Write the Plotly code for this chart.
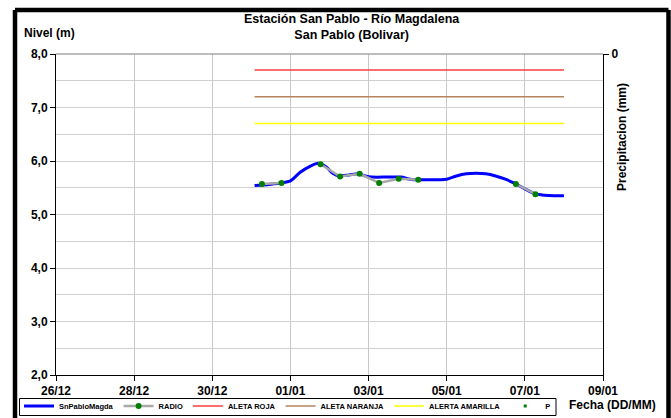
import plotly.graph_objects as go

# ---- data ----
nivel_time = ["2013-12-31 02:00", "2013-12-31 07:00", "2013-12-31 13:00", "2013-12-31 18:00",
              "2014-01-01 00:00", "2014-01-01 06:00", "2014-01-01 12:00", "2014-01-01 17:00",
              "2014-01-01 22:00", "2014-01-02 02:00", "2014-01-02 06:00", "2014-01-02 12:00",
              "2014-01-02 18:00", "2014-01-02 22:00", "2014-01-03 02:00", "2014-01-03 12:00",
              "2014-01-03 20:00", "2014-01-04 00:00", "2014-01-04 04:00", "2014-01-04 12:00",
              "2014-01-04 20:00", "2014-01-05 00:00", "2014-01-05 06:00", "2014-01-05 12:00",
              "2014-01-05 18:00", "2014-01-06 00:00", "2014-01-06 06:00", "2014-01-06 12:00",
              "2014-01-06 18:00", "2014-01-07 00:00", "2014-01-07 06:00", "2014-01-07 12:00",
              "2014-01-07 18:00", "2014-01-08 00:00"]
nivel_vals = [5.54, 5.55, 5.57, 5.59,
              5.63, 5.79, 5.90, 5.96,
              5.89, 5.77, 5.72, 5.74,
              5.76, 5.72, 5.70, 5.70,
              5.70, 5.67, 5.65, 5.65,
              5.65, 5.66, 5.72, 5.76,
              5.77, 5.76, 5.72, 5.66,
              5.58, 5.48, 5.39, 5.36,
              5.35, 5.35]

radio_time = ["2013-12-31 06:30", "2013-12-31 18:30", "2014-01-01 06:30", "2014-01-01 18:30",
              "2014-01-02 06:30", "2014-01-02 18:30", "2014-01-03 06:30", "2014-01-03 18:30",
              "2014-01-04 06:30", "2014-01-05 12:00", "2014-01-06 18:30", "2014-01-07 06:30"]
radio_vals = [5.57, 5.59, None, 5.94, 5.71, 5.76, 5.59, 5.67, 5.65, None, 5.57, 5.38]

alert_time = ["2013-12-31 02:00", "2014-01-08 00:00"]
roja_vals = [7.7, 7.7]
naranja_vals = [7.2, 7.2]
amarilla_vals = [6.7, 6.7]

# no precipitation recorded in the period
precip_time = ["2014-01-01 00:00"]
precip_vals = [None]

y_tickvals = [2, 3, 4, 5, 6, 7, 8]
y_ticktext = ["2,0", "3,0", "4,0", "5,0", "6,0", "7,0", "8,0"]

FONT = "Liberation Sans, Arial, sans-serif"

fig = go.Figure()
fig.add_trace(go.Scatter(x=nivel_time, y=nivel_vals, name="SnPabloMagda", mode="lines",
                         line=dict(color="#0000ff", width=3, shape="spline", smoothing=0.8)))
fig.add_trace(go.Scatter(x=radio_time, y=radio_vals, name="RADIO", mode="lines+markers",
                         line=dict(color="#a8a8a8", width=2.5),
                         marker=dict(color="#008000", size=6)))
fig.add_trace(go.Scatter(x=alert_time, y=roja_vals, name="ALETA ROJA", mode="lines",
                         line=dict(color="#ff3b3b", width=1.5)))
fig.add_trace(go.Scatter(x=alert_time, y=naranja_vals, name="ALETA NARANJA", mode="lines",
                         line=dict(color="#b5845a", width=1.5)))
fig.add_trace(go.Scatter(x=alert_time, y=amarilla_vals, name="ALERTA AMARILLA", mode="lines",
                         line=dict(color="#ffff00", width=1.5)))
fig.add_trace(go.Scatter(x=precip_time, y=precip_vals, name="P", mode="markers", yaxis="y2",
                         marker=dict(color="#008000", size=3, symbol="square")))

W, H = 671, 418
L, R, T, B = 56, 68, 54, 43
pw, ph = W - L - R, H - T - B

def px(x):
    return (x - L) / pw

def py(y):
    return (H - B - y) / ph

frame_line = dict(color="black", width=4.5)
fx0, fx1, fy0, fy1 = px(15), px(668.5), py(10), py(425)
box_line = dict(color="black", width=1)
bx0, bx1, by0, by1 = px(19.5), px(556), py(398.5), py(415.5)

fig.update_layout(
    width=W, height=H,
    margin=dict(l=L, r=R, t=T, b=B, pad=0, autoexpand=False),
    paper_bgcolor="white", plot_bgcolor="white",
    font=dict(family=FONT, size=12, color="black"),
    showlegend=True,
    legend=dict(orientation="h", x=px(19), y=py(391.5), xanchor="left", yanchor="top",
                borderwidth=0, bgcolor="rgba(0,0,0,0)",
                font=dict(size=7.5, family=FONT, color="black", weight="bold"),
                itemwidth=30, tracegroupgap=0),
    xaxis=dict(type="date", range=["2013-12-26", "2014-01-09"],
               tick0="2013-12-26", dtick=2 * 86400000, tickformat="%d/%m",
               showgrid=True, gridcolor="#c8c8c8", gridwidth=1,
               showline=True, linecolor="black", linewidth=1,
               ticks="outside", ticklen=5, tickcolor="black",
               tickfont=dict(size=12, family=FONT, weight="bold"),
               zeroline=False),
    yaxis=dict(range=[2, 8], tickvals=y_tickvals, ticktext=y_ticktext,
               showgrid=True, gridcolor="#d0d0d0", gridwidth=1,
               minor=dict(dtick=0.5, showgrid=True, gridcolor="#d0d0d0", ticks=""),
               showline=True, linecolor="black", linewidth=1,
               ticks="outside", ticklen=5, tickcolor="black",
               tickfont=dict(size=12, family=FONT, weight="bold"),
               zeroline=False),
    yaxis2=dict(overlaying="y", side="right", range=[100, 0],
                tickvals=[0], ticktext=["0"], showgrid=False,
                showline=True, linecolor="black", linewidth=1,
                ticks="outside", ticklen=5, tickcolor="black",
                tickfont=dict(size=12, family=FONT, weight="bold"),
                zeroline=False),
    annotations=[
        dict(text="Estación San Pablo - Río Magdalena<br>San Pablo (Bolivar)",
             x=px(352), y=py(27), xref="paper", yref="paper", showarrow=False,
             xanchor="center", yanchor="middle",
             font=dict(size=12.5, family=FONT, weight="bold")),
        dict(text="Nivel (m)", x=px(22), y=py(33), xref="paper", yref="paper",
             showarrow=False, xanchor="left", yanchor="middle",
             font=dict(size=12, family=FONT, weight="bold")),
        dict(text="Fecha (DD/MM)", x=px(612), y=py(405), xref="paper", yref="paper",
             showarrow=False, xanchor="center", yanchor="middle",
             font=dict(size=12, family=FONT, weight="bold")),
        dict(text="Precipitacion (mm)", x=px(622), y=py(137), xref="paper", yref="paper",
             showarrow=False, xanchor="center", yanchor="middle", textangle=-90,
             font=dict(size=12, family=FONT, weight="bold")),
    ],
    shapes=[
        dict(type="line", xref="paper", yref="paper", x0=0, x1=1, y0=1, y1=1,
             line=dict(color="#a6a6a6", width=1.5)),
        dict(type="line", xref="paper", yref="paper", x0=fx0, x1=fx1, y0=fy0, y1=fy0, line=frame_line),
        dict(type="line", xref="paper", yref="paper", x0=fx0, x1=fx0, y0=fy0, y1=fy1, line=frame_line),
        dict(type="line", xref="paper", yref="paper", x0=fx1, x1=fx1, y0=fy0, y1=fy1, line=frame_line),
        dict(type="line", xref="paper", yref="paper", x0=bx0, x1=bx1, y0=by0, y1=by0, line=box_line),
        dict(type="line", xref="paper", yref="paper", x0=bx0, x1=bx1, y0=by1, y1=by1, line=box_line),
        dict(type="line", xref="paper", yref="paper", x0=bx0, x1=bx0, y0=by0, y1=by1, line=box_line),
        dict(type="line", xref="paper", yref="paper", x0=bx1, x1=bx1, y0=by0, y1=by1, line=box_line),
    ],
)

fig.write_html("out.html", config={"displayModeBar": False},
               post_script="document.body.style.margin='0';document.body.style.overflow='hidden';")
